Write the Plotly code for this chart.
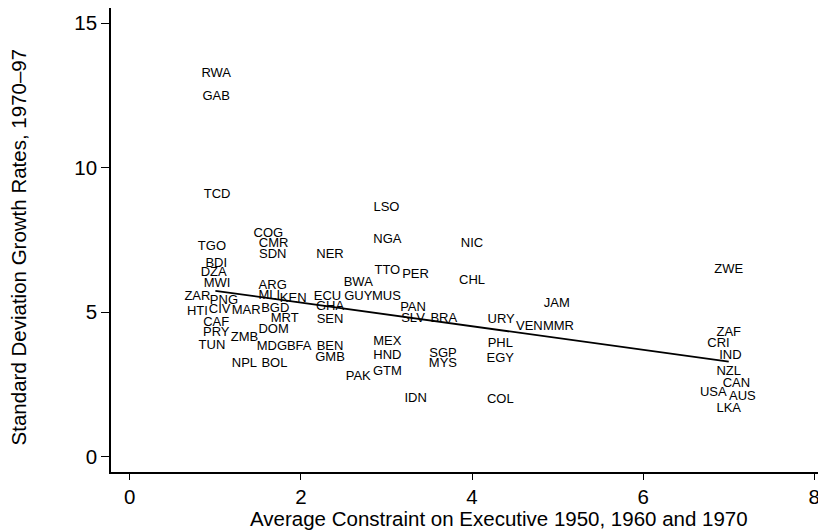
import plotly.graph_objects as go

countries = ["RWA", "GAB", "TCD", "COG", "CMR", "SDN", "TGO", "NER", "BDI", "DZA",
             "MWI", "ZAR", "PNG", "HTI", "CIV", "MAR", "CAF", "PRY", "TUN", "ZMB",
             "ARG", "MLI", "KEN", "BGD", "MRT", "DOM", "MDG", "BFA", "NPL", "BOL",
             "ECU", "GHA", "SEN", "BEN", "GMB", "BWA", "GUY", "MUS", "TTO", "PER",
             "LSO", "NGA", "NIC", "CHL", "PAN", "SLV", "BRA", "MEX", "HND", "GTM",
             "PAK", "SGP", "MYS", "IDN", "URY", "VEN", "MMR", "JAM", "PHL", "EGY",
             "COL", "ZWE", "ZAF", "CRI", "IND", "NZL", "CAN", "USA", "AUS", "LKA"]

constraint = [1.01, 1.01, 1.02, 1.62, 1.68, 1.67, 0.96, 2.34, 1.01, 0.98,
              1.02, 0.79, 1.10, 0.79, 1.05, 1.36, 1.01, 1.01, 0.96, 1.34,
              1.67, 1.63, 1.91, 1.70, 1.81, 1.68, 1.66, 1.98, 1.34, 1.69,
              2.31, 2.34, 2.34, 2.34, 2.34, 2.67, 2.67, 3.00, 3.01, 3.34,
              3.00, 3.01, 4.00, 4.00, 3.31, 3.31, 3.67, 3.01, 3.01, 3.01,
              2.67, 3.66, 3.66, 3.34, 4.34, 4.67, 5.01, 4.99, 4.33, 4.33,
              4.33, 7.00, 7.00, 6.88, 7.02, 7.00, 7.09, 6.82, 7.16, 7.00]

sd_growth = [13.24, 12.46, 9.06, 7.71, 7.36, 6.99, 7.27, 6.98, 6.69, 6.35,
             5.98, 5.52, 5.40, 5.02, 5.10, 5.05, 4.64, 4.29, 3.85, 4.13,
             5.93, 5.56, 5.45, 5.12, 4.78, 4.41, 3.79, 3.79, 3.21, 3.21,
             5.54, 5.18, 4.75, 3.81, 3.43, 6.02, 5.54, 5.54, 6.44, 6.29,
             8.60, 7.50, 7.38, 6.09, 5.17, 4.79, 4.79, 3.98, 3.49, 2.94,
             2.78, 3.55, 3.21, 1.99, 4.74, 4.50, 4.50, 5.31, 3.92, 3.40,
             1.96, 6.46, 4.29, 3.90, 3.51, 2.94, 2.52, 2.21, 2.06, 1.67]

fit_x = [1.0, 7.0]
fit_y = [5.74, 3.29]

x_ticks = [0, 2, 4, 6, 8]
y_ticks = [0, 5, 10, 15]

x_title = "Average Constraint on Executive 1950, 1960 and 1970"
y_title = "Standard Deviation Growth Rates, 1970\u201397"

FONT = "Liberation Sans, Arial, Helvetica, sans-serif"

fig = go.Figure()
fig.add_trace(go.Scatter(
    x=fit_x, y=fit_y, mode="lines",
    line=dict(color="black", width=1.8),
    hoverinfo="skip", showlegend=False))
fig.add_trace(go.Scatter(
    x=constraint, y=sd_growth, mode="text", text=countries,
    textposition="middle center",
    textfont=dict(family=FONT, size=13, color="black"),
    showlegend=False))

fig.update_layout(
    width=818, height=523,
    margin=dict(l=103, r=0, t=0, b=59),
    paper_bgcolor="white", plot_bgcolor="white",
    font=dict(family=FONT, color="black"),
    xaxis=dict(
        range=[-0.22, 8.137], tickvals=x_ticks, showgrid=False, zeroline=False,
        showline=True, linecolor="black", linewidth=1.5,
        ticks="outside", ticklen=6, tickwidth=1.2, tickcolor="black",
        tickfont=dict(family=FONT, size=20.5, color="black"),
        automargin=False),
    yaxis=dict(
        range=[-0.53, 15.53], tickvals=y_ticks, showgrid=False, zeroline=False,
        showline=True, linecolor="black", linewidth=1.5,
        ticks="outside", ticklen=8, tickwidth=1.2, tickcolor="black",
        tickfont=dict(family=FONT, size=20.5, color="black"),
        automargin=False),
    annotations=[
        dict(text=x_title, xref="paper", yref="paper", x=0.5433, y=0,
             xanchor="center", yanchor="middle", yshift=-46, showarrow=False,
             font=dict(family=FONT, size=20.5, color="black")),
        dict(text=y_title, xref="paper", yref="paper", x=0, y=0.484,
             xanchor="center", yanchor="middle", xshift=-93, textangle=-90,
             showarrow=False, font=dict(family=FONT, size=20.5, color="black")),
    ],
)

fig.write_html("out.html")
